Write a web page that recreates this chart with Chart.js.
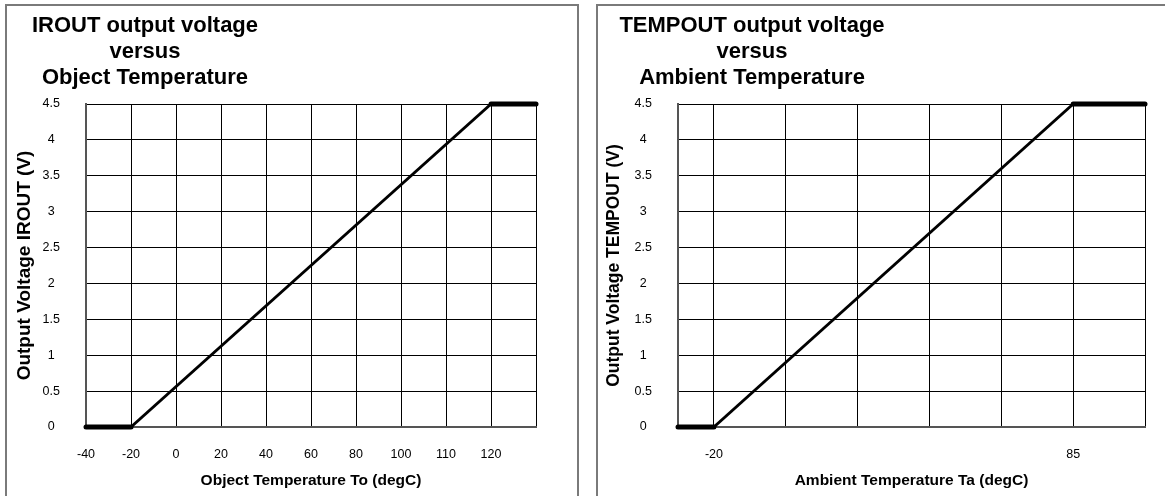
<!DOCTYPE html>
<html>
<head>
<meta charset="utf-8">
<script src="https://cdn.jsdelivr.net/npm/chart.js@4.4.1/dist/chart.umd.min.js"></script>
<style>
  html, body { margin: 0; padding: 0; background: #fff; }
  body { width: 1165px; height: 496px; position: relative; overflow: hidden; font-family: "Liberation Sans", Arial, sans-serif; }
  .panel { position: absolute; top: 4px; height: 600px; border: 2px solid #7a7a7a; box-sizing: border-box; pointer-events: none; }
  .box { position: absolute; top: 0; height: 496px; }
  .title { position: absolute; top: 12px; font-weight: bold; font-size: 22px; line-height: 26px; text-align: center; white-space: nowrap; }
</style>
</head>
<body>
<div class="panel" style="left:5px; width:574px;"></div>
<div class="panel" style="left:596px; width:620px;"></div>
<div class="box" style="left:0; width:583px;"><canvas id="irChart"></canvas></div>
<div class="box" style="left:583px; width:582px;"><canvas id="taChart"></canvas></div>
<div class="title" style="left:0; width:290px;">IROUT output voltage<br>versus<br>Object Temperature</div>
<div class="title" style="left:602px; width:300px;">TEMPOUT output voltage<br>versus<br>Ambient Temperature</div>

<script>
// IROUT vs object temperature
const irLabels = ["-40", "-20", "0", "20", "40", "60", "80", "100", "110", "120", ""];
const irLow = [0, 0, null, null, null, null, null, null, null, null, null];
const irSlope = [null, 0, null, null, null, null, null, null, null, 4.5, null];
const irHigh = [null, null, null, null, null, null, null, null, null, 4.5, 4.5];

// TEMPOUT vs ambient temperature
const taLabels = ["", "-20", "", "", "", "", "", "", "", "", "", "85", "", ""];
const taLow = [0, 0, null, null, null, null, null, null, null, null, null, null, null, null];
const taSlope = [null, 0, null, null, null, null, null, null, null, null, null, 4.5, null, null];
const taHigh = [null, null, null, null, null, null, null, null, null, null, null, 4.5, null, 4.5];

const yTicks = { min: 0, max: 4.5, step: 0.5 };

const font = "'Liberation Sans', Arial, sans-serif";

function makeChart(id, labels, low, slope, high, cfg) {
  const ctx = document.getElementById(id).getContext("2d");
  return new Chart(ctx, {
    type: "line",
    data: {
      labels: labels,
      datasets: [
        { data: low, borderColor: "#000", borderWidth: 5, borderCapStyle: "round", pointRadius: 0, spanGaps: true, clip: false },
        { data: slope, borderColor: "#000", borderWidth: 3, pointRadius: 0, spanGaps: true, clip: false },
        { data: high, borderColor: "#000", borderWidth: 5, borderCapStyle: "round", pointRadius: 0, spanGaps: true, clip: false },
      ],
    },
    options: {
      responsive: true,
      maintainAspectRatio: false,
      animation: false,
      layout: { padding: { top: 104, right: cfg.padRight, left: 0, bottom: 0 } },
      plugins: { legend: { display: false }, tooltip: { enabled: false }, title: { display: false } },
      scales: {
        x: {
          type: "category",
          offset: false,
          afterFit: function (scale) { scale.height = 69; },
          grid: {
            drawTicks: false,
            lineWidth: 1,
            color: function (c) { return cfg.gridAt(c.index) ? "#000" : "rgba(0,0,0,0)"; },
          },
          border: { display: true, color: "#555", width: 2 },
          ticks: {
            autoSkip: false,
            maxRotation: 0,
            padding: 20,
            color: "#000",
            font: { family: font, size: 12.5 },
          },
          title: {
            display: true,
            text: cfg.xTitle,
            color: "#000",
            font: { family: font, size: 15.5, weight: "bold" },
            padding: { top: 0, bottom: 6 },
          },
        },
        y: {
          min: yTicks.min,
          max: yTicks.max,
          afterFit: function (scale) { scale.width = cfg.yWidth; },
          grid: { drawTicks: false, color: "#000", lineWidth: 1 },
          border: { display: true, color: "#555", width: 2 },
          ticks: {
            stepSize: yTicks.step,
            crossAlign: "center",
            padding: 26,
            color: "#000",
            font: { family: font, size: 12.5 },
            callback: function (value) { return String(value); },
          },
          title: {
            display: true,
            text: cfg.yTitle,
            color: "#000",
            font: { family: font, size: cfg.yTitleSize, weight: "bold" },
            padding: { top: cfg.yTitlePad, bottom: 0 },
          },
        },
      },
    },
  });
}

makeChart("irChart", irLabels, irLow, irSlope, irHigh, {
  padRight: 47,
  yWidth: 86,
  xTitle: "Object Temperature To (degC)",
  yTitle: "Output Voltage IROUT (V)",
  yTitleSize: 19,
  yTitlePad: 13,
  gridAt: function (i) { return i > 0; },
});

makeChart("taChart", taLabels, taLow, taSlope, taHigh, {
  padRight: 20,
  yWidth: 95,
  xTitle: "Ambient Temperature Ta (degC)",
  yTitle: "Output Voltage TEMPOUT (V)",
  yTitleSize: 17.5,
  yTitlePad: 21,
  gridAt: function (i) { return i % 2 === 1; },
});
</script>
</body>
</html>
